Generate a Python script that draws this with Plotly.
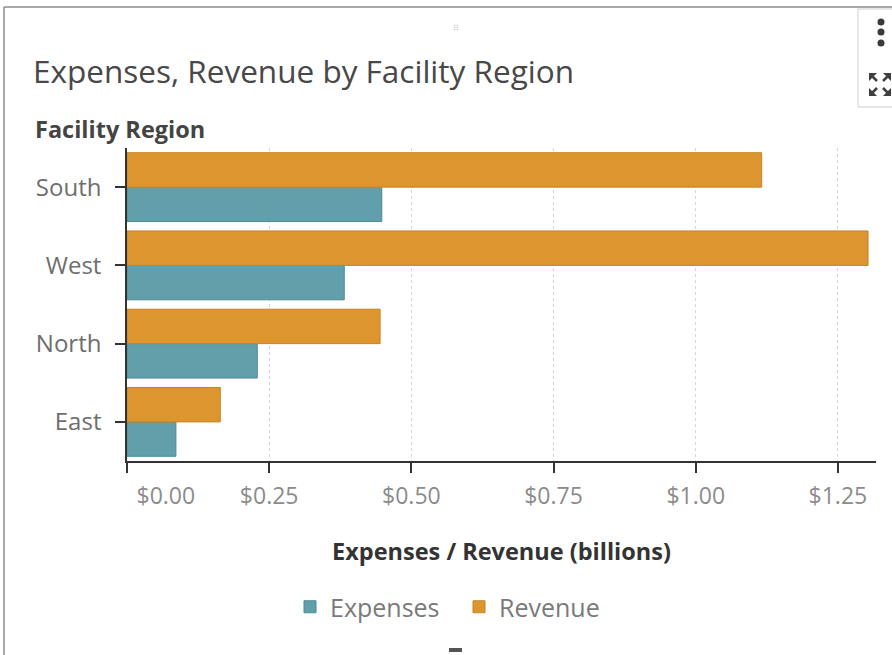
import plotly.graph_objects as go

regions = ["East", "North", "West", "South"]
expenses = [0.086, 0.229, 0.382, 0.448]
revenue = [0.164, 0.445, 1.303, 1.116]
tick_vals = [0, 0.25, 0.5, 0.75, 1.0, 1.25]
tick_text = ["\u00a0" * 13 + "$0.00", "$0.25", "$0.50", "$0.75", "$1.00", "$1.25"]

FONT = "'Open Sans', sans-serif"
W, H = 892, 655
L, R, T, B = 127, 16, 148, 194
PW, PH = W - L - R, H - T - B


def px(x):
    return (x - L) / PW


def py(y):
    return (H - B - y) / PH


def path(points):
    return "M " + " L ".join(f"{px(a):.5f},{py(b):.5f}" for a, b in points) + " Z"


fig = go.Figure()
fig.add_trace(go.Bar(
    y=regions, x=expenses, orientation="h", name="Expenses",
    marker=dict(color="#61a0ab", line=dict(color="#4b8a98", width=1)),
))
fig.add_trace(go.Bar(
    y=regions, x=revenue, orientation="h", name="Revenue",
    marker=dict(color="#dc952f", line=dict(color="#c98320", width=1)),
))

fig.update_layout(
    width=W, height=H,
    margin=dict(l=L, r=R, t=T, b=B, autoexpand=False),
    paper_bgcolor="white", plot_bgcolor="white",
    barmode="group", bargap=0.12, bargroupgap=0,
    font=dict(family=FONT, color="#666"),
    showlegend=True,
    legend=dict(orientation="h", x=px(459), xanchor="center", xref="paper",
                y=py(607), yanchor="middle",
                font=dict(size=25, color="#7a7a7a", family=FONT),
                itemwidth=30, entrywidth=124, traceorder="normal"),
    title=dict(text="Expenses, Revenue by Facility Region", x=33 / W, xref="container",
               xanchor="left", y=1 - 72 / H, yanchor="middle", yref="container",
               font=dict(size=31.5, color="#484848", family=FONT)),
    xaxis=dict(
        range=[0, 1.317], tickvals=tick_vals, ticktext=tick_text,
        showline=True, linecolor="#333", linewidth=1.5,
        ticks="outside", ticklen=10, tickcolor="#333", tickwidth=1.5,
        showgrid=True, gridcolor="#d6d6d6", griddash="dot", gridwidth=1,
        zeroline=False, tickangle=0,
        tickfont=dict(size=23, color="#8c8c8c", family=FONT),
        ticklabelstandoff=4,
        title=dict(text="<b>Expenses / Revenue (billions)</b>", standoff=33,
                   font=dict(size=23.5, color="#333", family=FONT)),
        fixedrange=True,
    ),
    yaxis=dict(
        categoryorder="array", categoryarray=regions,
        showline=True, linecolor="#333", linewidth=1.5,
        ticks="outside", ticklen=10, tickcolor="#333", tickwidth=1.5,
        showgrid=False, zeroline=False,
        tickfont=dict(size=24, color="#6e6e6e", family=FONT),
        ticklabelstandoff=9,
        fixedrange=True,
    ),
)

fig.add_annotation(text="<b>Facility Region</b>", xref="paper", yref="paper",
                   x=px(33), y=py(129), xanchor="left", yanchor="middle",
                   showarrow=False, font=dict(size=23.5, color="#444", family=FONT))

# panel frame and toolbar box
fig.add_shape(type="line", xref="paper", yref="paper",
              x0=px(4), x1=px(4), y0=py(H + 5), y1=py(7),
              line=dict(color="#8c8c8c", width=1.5))
fig.add_shape(type="line", xref="paper", yref="paper",
              x0=px(4), x1=px(W + 5), y0=py(7), y1=py(7),
              line=dict(color="#8c8c8c", width=1.5))
fig.add_shape(type="rect", xref="paper", yref="paper",
              x0=px(858), x1=px(W + 5), y0=py(107), y1=py(9),
              line=dict(color="#cfcfcf", width=1), fillcolor="white")
fig.add_shape(type="rect", xref="paper", yref="paper",
              x0=px(449), x1=px(462), y0=py(652), y1=py(648),
              line=dict(width=0), fillcolor="#555")
# menu dots
for cy in (22, 32, 43):
    fig.add_shape(type="circle", xref="paper", yref="paper",
                  x0=px(877.5), x1=px(884.5), y0=py(cy + 3.5), y1=py(cy - 3.5),
                  line=dict(width=0), fillcolor="#3a3a3a")
# expand icon (four corner arrows)
icon = [
    [(869, 73), (877, 73), (869, 81)],
    [(891, 73), (883, 73), (891, 81)],
    [(869, 96), (877, 96), (869, 88)],
    [(891, 96), (883, 96), (891, 88)],
]
for tri in icon:
    fig.add_shape(type="path", xref="paper", yref="paper", path=path(tri),
                  line=dict(width=0), fillcolor="#3f3f3f")
for (a, b), (c, d) in [((871, 75), (877, 81)), ((889, 75), (883, 81)),
                       ((871, 94), (877, 88)), ((889, 94), (883, 88))]:
    fig.add_shape(type="line", xref="paper", yref="paper",
                  x0=px(a), y0=py(b), x1=px(c), y1=py(d),
                  line=dict(color="#3f3f3f", width=2.5))
fig.add_annotation(text="⠿", xref="paper", yref="paper",
                   x=px(456), y=py(22), showarrow=False,
                   font=dict(size=8, color="#bbb", family="DejaVu Sans"))

fig.write_html("out.html", config={"displayModeBar": False},
               post_script="document.body.style.margin='0';")
